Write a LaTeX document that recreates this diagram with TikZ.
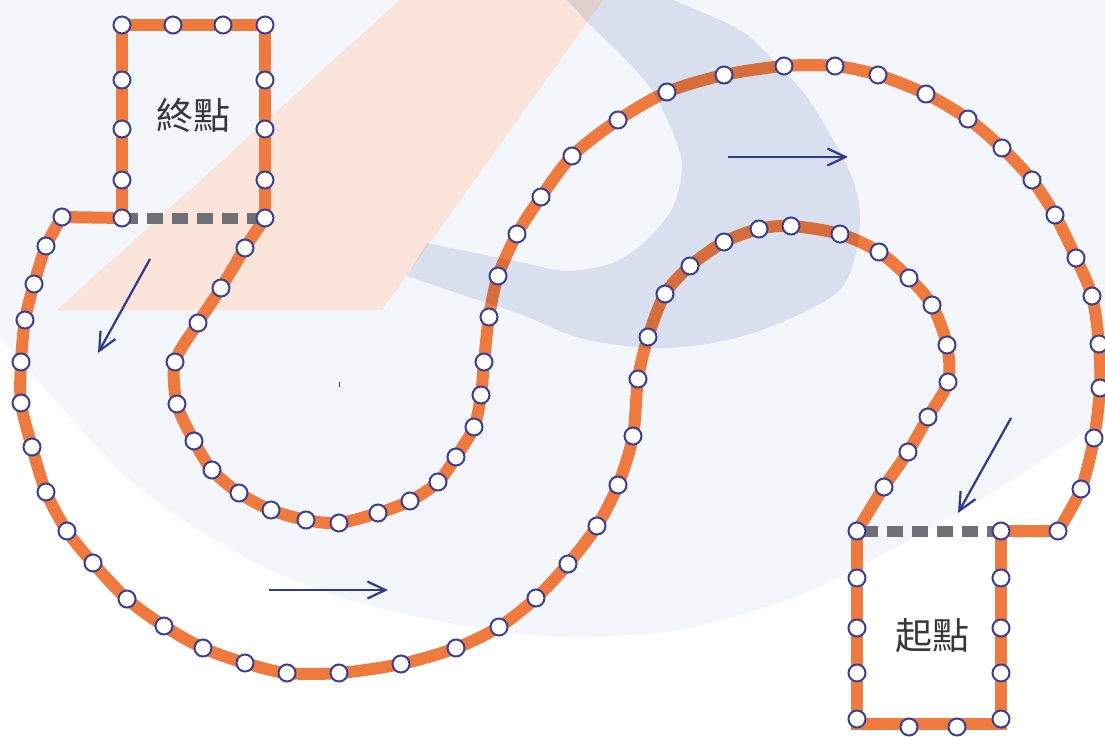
\documentclass[tikz,border=0pt]{standalone}
\usepackage{fontspec}
\newfontfamily\cjkfont{Noto Sans CJK TC}
\usetikzlibrary{arrows.meta}

\definecolor{railorange}{HTML}{F07A3E}
\definecolor{stopblue}{HTML}{3A3F98}
\definecolor{flowblue}{HTML}{2F3A8F}
\definecolor{gapgray}{HTML}{6E7076}
\definecolor{logopeach}{HTML}{FBE4D9}
\definecolor{logoslate}{HTML}{E3E8F2}
\definecolor{logomist}{HTML}{F3F6FB}
\definecolor{labelgray}{HTML}{383838}

\tikzset{
  rail/.style={draw=railorange, line width=12pt},
  stop/.style={circle, draw=stopblue, fill=white, line width=2pt, minimum size=17pt, inner sep=0pt},
  gapline/.style={draw=gapgray, line width=11pt, dash pattern=on 16pt off 9pt},
  flow/.style={draw=flowblue, line width=2.2pt, -{Straight Barb[length=18pt,width=17pt]}},
  boxlabel/.style={font=\cjkfont\fontsize{37}{44}\selectfont, text=labelgray}
}

% stops along the two routes, in order
\newcommand\innerstops{1058/531, 1081/489, 1094/438, 1100/388, 1099/344, 1092/296, 1076/258, 1055/215, 1032/180, 1002/148, 968/119, 926/94, 878/75, 835/66, 784/66, 724/75, 667/92, 618/120, 572/156, 541/197, 517/234, 498/276, 489/317, 484/362, 481/395, 474/427, 456/457, 438/482, 410/501, 378/513, 339/523, 306/520, 271/510, 239/493, 212/470, 194/441, 177/404, 175/362, 198/323, 221/288, 245/248, 265/218}
\newcommand\outerstops{857/531, 884/487, 908/452, 928/417, 948/382, 947/345, 932/305, 909/278, 879/252, 840/234, 791/226, 759/229, 724/242, 690/266, 665/294, 648/337, 638/379, 633/436, 618/485, 597/526, 568/564, 536/598, 499/627, 456/648, 401/664, 339/673, 287/673, 245/663, 203/648, 164/626, 127/599, 93/563, 67/531, 46/492, 32/447, 21/403, 21/362, 25/320, 34/284, 46/246, 62/217}
\newcommand\finishstops{122/218, 122/180, 122/129, 122/80, 122/25, 173/25, 223/25, 265/25, 265/80, 265/129, 265/180}
\newcommand\originstops{857/578, 857/628, 857/673, 857/719, 909/727, 957/727, 1001/719, 1001/673, 1001/628, 1001/578, 1001/531}

% turn a stop list into plot coordinates
\newcommand\railpts{}
\newcommand\makerail[1]{\gdef\railpts{}\foreach \x/\y in #1 {\xdef\railpts{\railpts (\x,\y)}}}

\begin{document}
\begin{tikzpicture}[x=1pt, y=-1pt]
\useasboundingbox (0,0) rectangle (1105,736);
\clip (0,0) rectangle (1105,736);
% logo backdrop
\fill[logomist] (0,0) -- plot[smooth] coordinates {(0,337) (130,480) (250,560) (350,600) (460,625) (563,637) (680,630) (800,595) (900,545) (980,500) (1050,455) (1105,420)} -- (1105,0) -- cycle;
\fill[logopeach] (57,310) -- (382,310) -- (603,0) -- (400,0) -- cycle;

% box corners where the gaps are
\coordinate (finL) at (122,218);
\coordinate (finR) at (265,218);
\coordinate (begL) at (857,531);
\coordinate (begR) at (1001,531);

% boxes
\draw[rail] (finL) -- (122,25) -- (265,25) -- (finR);
\draw[rail] (begL) -- (857,724) -- (1001,724) -- (begR);
% routes
\makerail\innerstops
\edef\innerrail{\noexpand\draw[rail] (begR) -- plot[smooth] coordinates {\railpts};}
\innerrail
\makerail\outerstops
\edef\outerrail{\noexpand\draw[rail] plot[smooth] coordinates {\railpts} -- (finL);}
\outerrail
% gaps
\draw[gapline] (finL) -- (finR);
\draw[gapline, dash phase=20pt] (begL) -- (begR);

% logo swoosh over the rails
\begin{scope}[blend mode=multiply]
\fill[logoslate] (567,0) -- plot[smooth] coordinates {(673,0) (740,30) (773,60) (807,97) (833,140) (853,180) (860,217) (855,257) (840,290) (800,314) (750,334) (700,345) (647,348) (580,338) (520,314) (460,294) (407,276)}
  -- plot[smooth] coordinates {(427,243) (470,252) (520,262) (567,271) (613,263) (647,240) (673,207) (682,167) (673,133) (647,83) (587,22)} -- cycle;
\end{scope}

% stops
\foreach \x/\y [count=\i] in \innerstops \node[stop] (in\i) at (\x,\y) {};
\foreach \x/\y [count=\i] in \outerstops \node[stop] (out\i) at (\x,\y) {};
\foreach \x/\y [count=\i] in \finishstops \node[stop] (fin\i) at (\x,\y) {};
\foreach \x/\y [count=\i] in \originstops \node[stop] (beg\i) at (\x,\y) {};

% direction arrows
\foreach \xa/\ya/\xb/\yb [count=\k] in {150/259/98/353, 269/590/388/590, 728/157/848/157, 1011/418/958/513} {
  \coordinate (flow\k a) at (\xa,\ya);
  \coordinate (flow\k b) at (\xb,\yb);
  \draw[flow] (flow\k a) -- (flow\k b);
}
\draw[flowblue, line width=1pt] (339,382) -- (339,387);

% labels
\node[boxlabel] (finlabel) at (193,115) {終點};
\node[boxlabel] (beglabel) at (932,636) {起點};
\end{tikzpicture}
\end{document}
